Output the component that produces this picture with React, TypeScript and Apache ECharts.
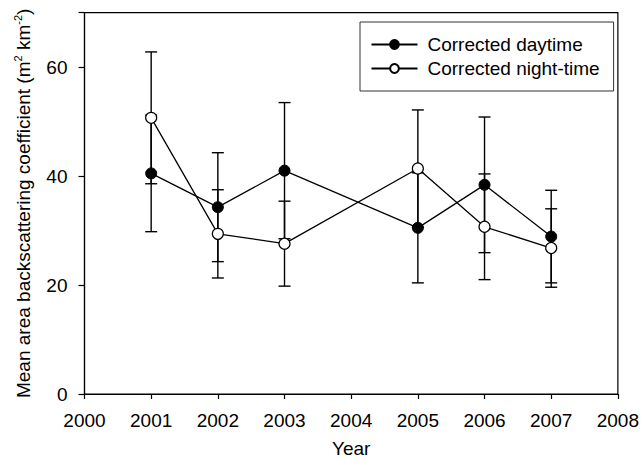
import React, { useEffect, useRef } from "react";
import * as echarts from "echarts";

const years = [2001, 2002, 2003, 2005, 2006, 2007];
const daytime = [40.5, 34.3, 41.0, 30.5, 38.4, 28.9];
const daytimeErr = [10.7, 10.0, 12.5, 10.1, 12.45, 8.5];
const night = [50.7, 29.4, 27.6, 41.4, 30.7, 26.8];
const nightErr = [12.1, 8.1, 7.8, 10.75, 9.7, 7.2];
const seriesNames = ["Corrected daytime", "Corrected night-time"];

const FONT = "'Liberation Sans', Arial, Helvetica, sans-serif";

export default function App() {
  const ref = useRef<HTMLDivElement>(null);
  useEffect(() => {
    document.body.style.margin = "0";
    if (!ref.current) return;
    const chart = echarts.init(ref.current, undefined, { renderer: "svg" });
    const errData = (vals: number[], errs: number[]) =>
      years.map((y, i) => [y, vals[i] - errs[i], vals[i] + errs[i]]);
    const renderErr = (params: any, api: any) => {
      const x = api.value(0);
      const lo = api.coord([x, api.value(1)]);
      const hi = api.coord([x, api.value(2)]);
      const hw = 6;
      const st = { stroke: "#000", lineWidth: 1.4 };
      return {
        type: "group",
        children: [
          { type: "line", shape: { x1: lo[0], y1: lo[1], x2: hi[0], y2: hi[1] }, style: st },
          { type: "line", shape: { x1: lo[0] - hw, y1: lo[1], x2: lo[0] + hw, y2: lo[1] }, style: st },
          { type: "line", shape: { x1: hi[0] - hw, y1: hi[1], x2: hi[0] + hw, y2: hi[1] }, style: st },
        ],
      };
    };
    chart.setOption({
      animation: false,
      textStyle: { fontFamily: FONT },
      grid: {
        left: 84.5,
        right: 23,
        top: 12.7,
        bottom: 65,
        show: true,
        borderColor: "#000",
        borderWidth: 1.2,
      },
      legend: {
        data: seriesNames,
        orient: "vertical",
        left: 360,
        top: 22,
        padding: [13, 14, 13, 10.5],
        itemGap: 5,
        itemWidth: 46,
        itemHeight: 11,
        borderColor: "#333",
        borderWidth: 1,
        textStyle: { fontSize: 19, color: "#000", fontFamily: FONT, padding: [0, 0, 0, 5] },
      },
      xAxis: {
        type: "value",
        min: 2000,
        max: 2008,
        interval: 1,
        name: "Year",
        nameLocation: "middle",
        nameGap: 45,
        nameTextStyle: { fontSize: 19, color: "#000", fontFamily: FONT },
        axisLine: { lineStyle: { color: "#000", width: 1.2 } },
        axisTick: { length: 5, lineStyle: { color: "#000", width: 1.2 } },
        axisLabel: {
          fontSize: 19,
          color: "#000",
          margin: 17,
          fontFamily: FONT,
          formatter: (v: number) => String(v),
        },
        splitLine: { show: false },
      },
      yAxis: {
        type: "value",
        min: 0,
        max: 70,
        interval: 20,
        name: "{a|Mean area backscattering coefficient (m}{s|2}{a| km}{s|-2}{a|)}",
        nameLocation: "middle",
        nameGap: 50,
        nameTextStyle: {
          color: "#000",
          fontFamily: FONT,
          rich: {
            a: { fontSize: 19, lineHeight: 22, color: "#000", fontFamily: FONT },
            s: { fontSize: 11, lineHeight: 22, verticalAlign: "top", color: "#000", fontFamily: FONT },
          },
        },
        axisLine: { show: true, lineStyle: { color: "#000", width: 1.2 } },
        axisTick: { show: true, length: 6, lineStyle: { color: "#000", width: 1.2 } },
        axisLabel: {
          fontSize: 19,
          color: "#000",
          margin: 17,
          fontFamily: FONT,
          formatter: (v: number) => (v % 20 === 0 ? String(v) : ""),
        },
        splitLine: { show: false },
      },
      series: [
        {
          type: "custom",
          name: "errDay",
          renderItem: renderErr,
          data: errData(daytime, daytimeErr),
          z: 1,
          silent: true,
        },
        {
          type: "custom",
          name: "errNight",
          renderItem: renderErr,
          data: errData(night, nightErr),
          z: 1,
          silent: true,
        },
        {
          type: "line",
          name: seriesNames[0],
          data: years.map((y, i) => [y, daytime[i]]),
          symbol: "circle",
          symbolSize: 11,
          lineStyle: { color: "#000", width: 1.3 },
          itemStyle: { color: "#000", borderColor: "#000", borderWidth: 1 },
          z: 3,
        },
        {
          type: "line",
          name: seriesNames[1],
          data: years.map((y, i) => [y, night[i]]),
          symbol: "circle",
          symbolSize: 11,
          lineStyle: { color: "#000", width: 1.3 },
          itemStyle: { color: "#fff", borderColor: "#000", borderWidth: 1.2 },
          z: 4,
        },
      ],
    });
    return () => chart.dispose();
  }, []);
  return <div ref={ref} style={{ width: 642, height: 463 }} />;
}
